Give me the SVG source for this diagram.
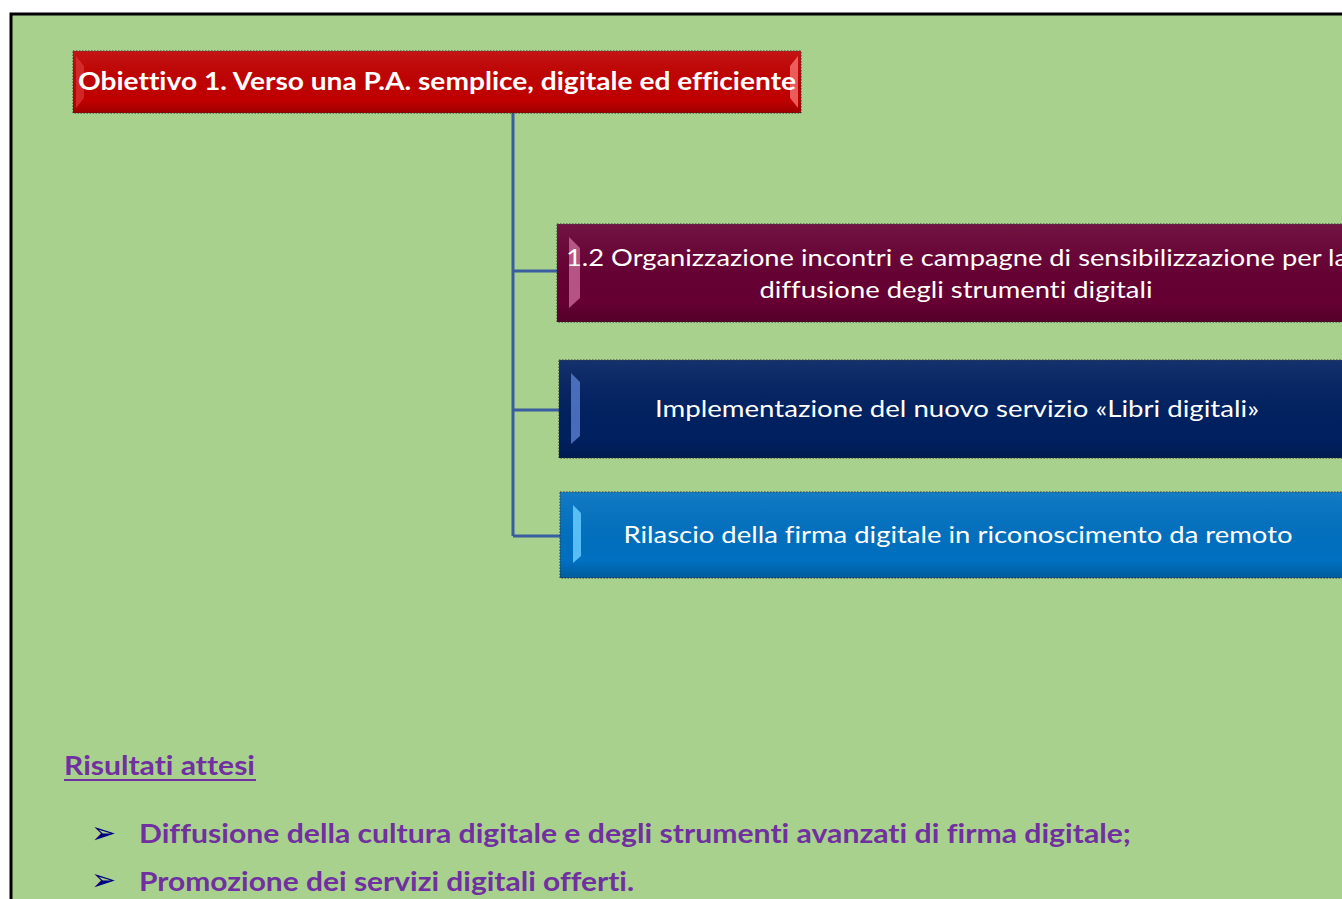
<svg xmlns="http://www.w3.org/2000/svg" width="1342" height="899" viewBox="0 0 1342 899">
<style>
.frame{fill:#A9D18E;stroke:#000;stroke-width:3}
.box{stroke:#333;stroke-width:1;stroke-dasharray:1.5 1.5}
.wt{font-family:Lato,"Open Sans","Liberation Sans",sans-serif;fill:#fff;font-size:24px;text-anchor:middle;font-variant-ligatures:no-common-ligatures}
.pt{font-family:Lato,"Open Sans","Liberation Sans",sans-serif;fill:#7030A0;font-weight:bold;font-size:26px;font-variant-ligatures:no-common-ligatures}
.bul{font-family:"DejaVu Sans",sans-serif;font-size:30px;fill:#000080}
.conn{fill:none;stroke:#3A5DA0;stroke-width:3}
.shade{fill:url(#shade)}
</style>
<defs>
<linearGradient id="shade" x1="0" y1="0" x2="0" y2="1">
<stop offset="0" stop-color="#fff" stop-opacity="0.08"/>
<stop offset="0.8" stop-color="#000" stop-opacity="0"/>
<stop offset="1" stop-color="#000" stop-opacity="0.18"/>
</linearGradient>
</defs>
<rect class="frame" x="11" y="14" width="1360" height="920"/>
<g id="connectors">
<path class="conn" d="M513 113 V536 M513 271 H557 M513 410 H559 M513 536 H560"/>
</g>
<g id="title">
<rect class="box" x="73" y="51" width="728" height="62" fill="#C00000"/>
<rect x="73" y="51" width="728" height="62" class="shade"/>
<polygon points="76,56 84,66 84,98 76,108" fill="#E04040" opacity="0.6"/>
<polygon points="798,56 790,66 790,98 798,108" fill="#FF8080" opacity="0.7"/>
<text class="wt" x="437" y="90" font-size="25" font-weight="bold" textLength="718" lengthAdjust="spacingAndGlyphs">Obiettivo 1. Verso una P.A. semplice, digitale ed efficiente</text>
</g>
<g id="node1">
<rect class="box" x="557" y="224" width="800" height="98" fill="#660033"/>
<rect x="557" y="224" width="800" height="98" class="shade"/>
<polygon points="569,237 580,248 580,298 569,308" fill="#D070A0" opacity="0.75"/>
<text class="wt" x="957" y="266" textLength="782" lengthAdjust="spacingAndGlyphs">1.2 Organizzazione incontri e campagne di sensibilizzazione per la</text>
<text class="wt" x="956" y="298" textLength="393" lengthAdjust="spacingAndGlyphs">diffusione degli strumenti digitali</text>
</g>
<g id="node2">
<rect class="box" x="559" y="360" width="800" height="98" fill="#002060"/>
<rect x="559" y="360" width="800" height="98" class="shade"/>
<polygon points="571,373 580,382 580,436 571,444" fill="#5A80D0" opacity="0.8"/>
<text class="wt" x="957" y="417" textLength="604" lengthAdjust="spacingAndGlyphs">Implementazione del nuovo servizio «Libri digitali»</text>
</g>
<g id="node3">
<rect class="box" x="560" y="492" width="800" height="86" fill="#0070C0"/>
<rect x="560" y="492" width="800" height="86" class="shade"/>
<polygon points="573,505 581,513 581,556 573,563" fill="#66CCFF" opacity="0.85"/>
<text class="wt" x="958" y="543" textLength="669" lengthAdjust="spacingAndGlyphs">Rilascio della firma digitale in riconoscimento da remoto</text>
</g>
<g id="results">
<text class="pt" x="64" y="775" font-size="27" textLength="191" lengthAdjust="spacingAndGlyphs">Risultati attesi</text>
<rect x="64" y="779" width="192" height="2" fill="#7030A0"/>
<text class="bul" x="91" y="843">➢</text>
<text class="pt" x="139" y="843" textLength="992" lengthAdjust="spacingAndGlyphs">Diffusione della cultura digitale e degli strumenti avanzati di firma digitale;</text>
<text class="bul" x="91" y="890">➢</text>
<text class="pt" x="139" y="891" textLength="495" lengthAdjust="spacingAndGlyphs">Promozione dei servizi digitali offerti.</text>
</g>
</svg>
